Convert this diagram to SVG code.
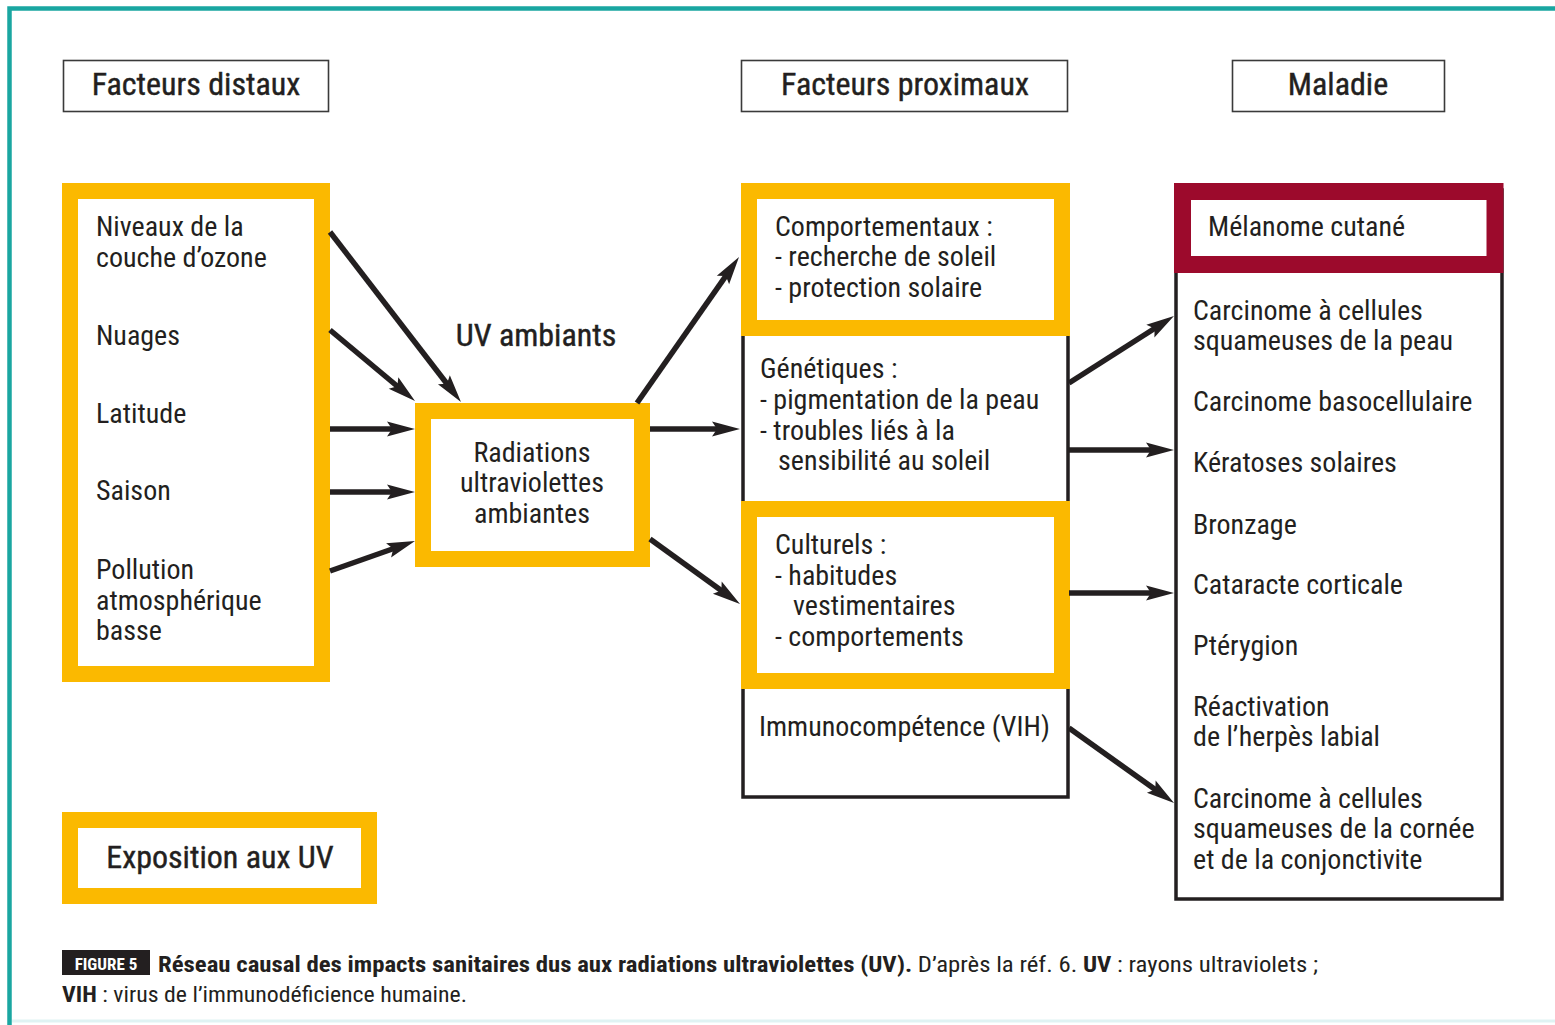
<svg xmlns="http://www.w3.org/2000/svg" width="1555" height="1025" viewBox="0 0 1555 1025">
<defs>
<style>
text{font-family:"Liberation Sans Narrow","Arial Narrow","Roboto Condensed","Liberation Sans",sans-serif;fill:#231f20;}
.t{font-size:28px;}
.h{font-size:32px;text-anchor:middle;stroke:#231f20;stroke-width:0.4;}
.hdr{fill:#fff;stroke:#3a3a3a;stroke-width:1.6;}
.org{fill:#fff;stroke:#fbb900;stroke-width:16;}
.blk{fill:#fff;stroke:#231f20;stroke-width:3.5;}
.red{fill:#fff;stroke:#9c0a2c;stroke-width:17;}
.arr{stroke:#231f20;stroke-width:5.5;fill:none;marker-end:url(#ah);}
.cap{font-size:22px;}
.b{font-weight:bold;}
</style>
<marker id="ah" markerUnits="userSpaceOnUse" viewBox="-12 -9 32 18" markerWidth="32" markerHeight="18" refX="0" refY="0" orient="auto">
<path d="M18,0 L-10,-7.5 L-5,0 L-10,7.5 Z" fill="#231f20"/>
</marker>
</defs>
<rect width="1555" height="1025" fill="#fff"/>
<path d="M9.5,1025 V8.5 H1555" fill="none" stroke="#1aa6a1" stroke-width="4.5"/>
<line x1="12" y1="1021" x2="1555" y2="1021" stroke="#dff3f3" stroke-width="3"/>

<g id="hdr-distaux"><rect class="hdr" x="63.5" y="60.5" width="265" height="51"/><text class="h" x="196" y="95">Facteurs distaux</text></g>
<g id="hdr-proximaux"><rect class="hdr" x="741.5" y="60.5" width="326" height="51"/><text class="h" x="905" y="95">Facteurs proximaux</text></g>
<g id="hdr-maladie"><rect class="hdr" x="1232.5" y="60.5" width="212" height="51"/><text class="h" x="1338" y="95">Maladie</text></g>

<g id="distaux">
<rect class="org" x="70" y="191" width="252" height="483"/>
<text class="t" x="96" y="236">Niveaux de la</text>
<text class="t" x="96" y="267">couche d’ozone</text>
<text class="t" x="96" y="345">Nuages</text>
<text class="t" x="96" y="423">Latitude</text>
<text class="t" x="96" y="500">Saison</text>
<text class="t" x="96" y="579">Pollution</text>
<text class="t" x="96" y="610">atmosphérique</text>
<text class="t" x="96" y="640">basse</text>
</g>

<g id="uv-label"><text class="h" x="536" y="346">UV ambiants</text></g>

<g id="radiations">
<rect class="org" x="423" y="411" width="219" height="148"/>
<text class="t" x="532" y="462" text-anchor="middle">Radiations</text>
<text class="t" x="532" y="492" text-anchor="middle">ultraviolettes</text>
<text class="t" x="532" y="523" text-anchor="middle">ambiantes</text>
</g>

<g id="proximaux">
<rect class="blk" x="743" y="190" width="325" height="607"/>
<g id="comportementaux">
<rect class="org" x="749" y="191" width="313" height="137"/>
<text class="t" x="775" y="236">Comportementaux :</text>
<text class="t" x="775" y="266">- recherche de soleil</text>
<text class="t" x="775" y="297">- protection solaire</text>
</g>
<g id="genetiques">
<text class="t" x="760" y="378">Génétiques :</text>
<text class="t" x="760" y="409">- pigmentation de la peau</text>
<text class="t" x="760" y="440">- troubles liés à la</text>
<text class="t" x="778" y="470">sensibilité au soleil</text>
</g>
<g id="culturels">
<rect class="org" x="749" y="509" width="313" height="172"/>
<text class="t" x="775" y="554">Culturels :</text>
<text class="t" x="775" y="585">- habitudes</text>
<text class="t" x="793" y="615">vestimentaires</text>
<text class="t" x="775" y="646">- comportements</text>
</g>
<g id="immuno">
<text class="t" x="759" y="736">Immunocompétence (VIH)</text>
</g>
</g>

<g id="maladie">
<rect class="blk" x="1176" y="190" width="326" height="709"/>
<g id="melanome">
<rect class="red" x="1182.5" y="191.5" width="312.5" height="73"/>
<text class="t" x="1208" y="236">Mélanome cutané</text>
</g>
<text class="t" x="1193" y="320">Carcinome à cellules</text>
<text class="t" x="1193" y="350">squameuses de la peau</text>
<text class="t" x="1193" y="411">Carcinome basocellulaire</text>
<text class="t" x="1193" y="472">Kératoses solaires</text>
<text class="t" x="1193" y="534">Bronzage</text>
<text class="t" x="1193" y="594">Cataracte corticale</text>
<text class="t" x="1193" y="655">Ptérygion</text>
<text class="t" x="1193" y="716">Réactivation</text>
<text class="t" x="1193" y="746">de l’herpès labial</text>
<text class="t" x="1193" y="808">Carcinome à cellules</text>
<text class="t" x="1193" y="838">squameuses de la cornée</text>
<text class="t" x="1193" y="869">et de la conjonctivite</text>
</g>

<g id="exposition">
<rect class="org" x="70" y="820" width="299" height="76"/>
<text class="h" x="220" y="868">Exposition aux UV</text>
</g>

<g id="connectors">
<line class="arr" x1="330" y1="232" x2="450" y2="387.7"/>
<line class="arr" x1="330" y1="330" x2="401.2" y2="389.5"/>
<line class="arr" x1="330" y1="429" x2="397" y2="429"/>
<line class="arr" x1="330" y1="492" x2="397" y2="492"/>
<line class="arr" x1="330" y1="571" x2="398" y2="547"/>
<line class="arr" x1="637" y1="403" x2="728.7" y2="271.8"/>
<line class="arr" x1="650" y1="429" x2="722" y2="429"/>
<line class="arr" x1="650" y1="539" x2="725.4" y2="593.5"/>
<line class="arr" x1="1069" y1="383" x2="1158.8" y2="325.7"/>
<line class="arr" x1="1069" y1="450" x2="1156" y2="450"/>
<line class="arr" x1="1069" y1="593" x2="1156" y2="593"/>
<line class="arr" x1="1069" y1="728" x2="1159.4" y2="792.5"/>
</g>

<g id="caption">
<rect x="62" y="950" width="88" height="25" fill="#231f20"/>
<text x="106" y="970" style="font-size:17px;font-weight:bold;fill:#fff;text-anchor:middle">FIGURE 5</text>
<text class="cap" x="158" y="972" textLength="1160" lengthAdjust="spacingAndGlyphs"><tspan class="b">Réseau causal des impacts sanitaires dus aux radiations ultraviolettes (UV).</tspan> D’après la réf. 6. <tspan class="b">UV</tspan> : rayons ultraviolets ;</text>
<text class="cap" x="62" y="1002" textLength="405" lengthAdjust="spacingAndGlyphs"><tspan class="b">VIH</tspan> : virus de l’immunodéficience humaine.</text>
</g>
</svg>
